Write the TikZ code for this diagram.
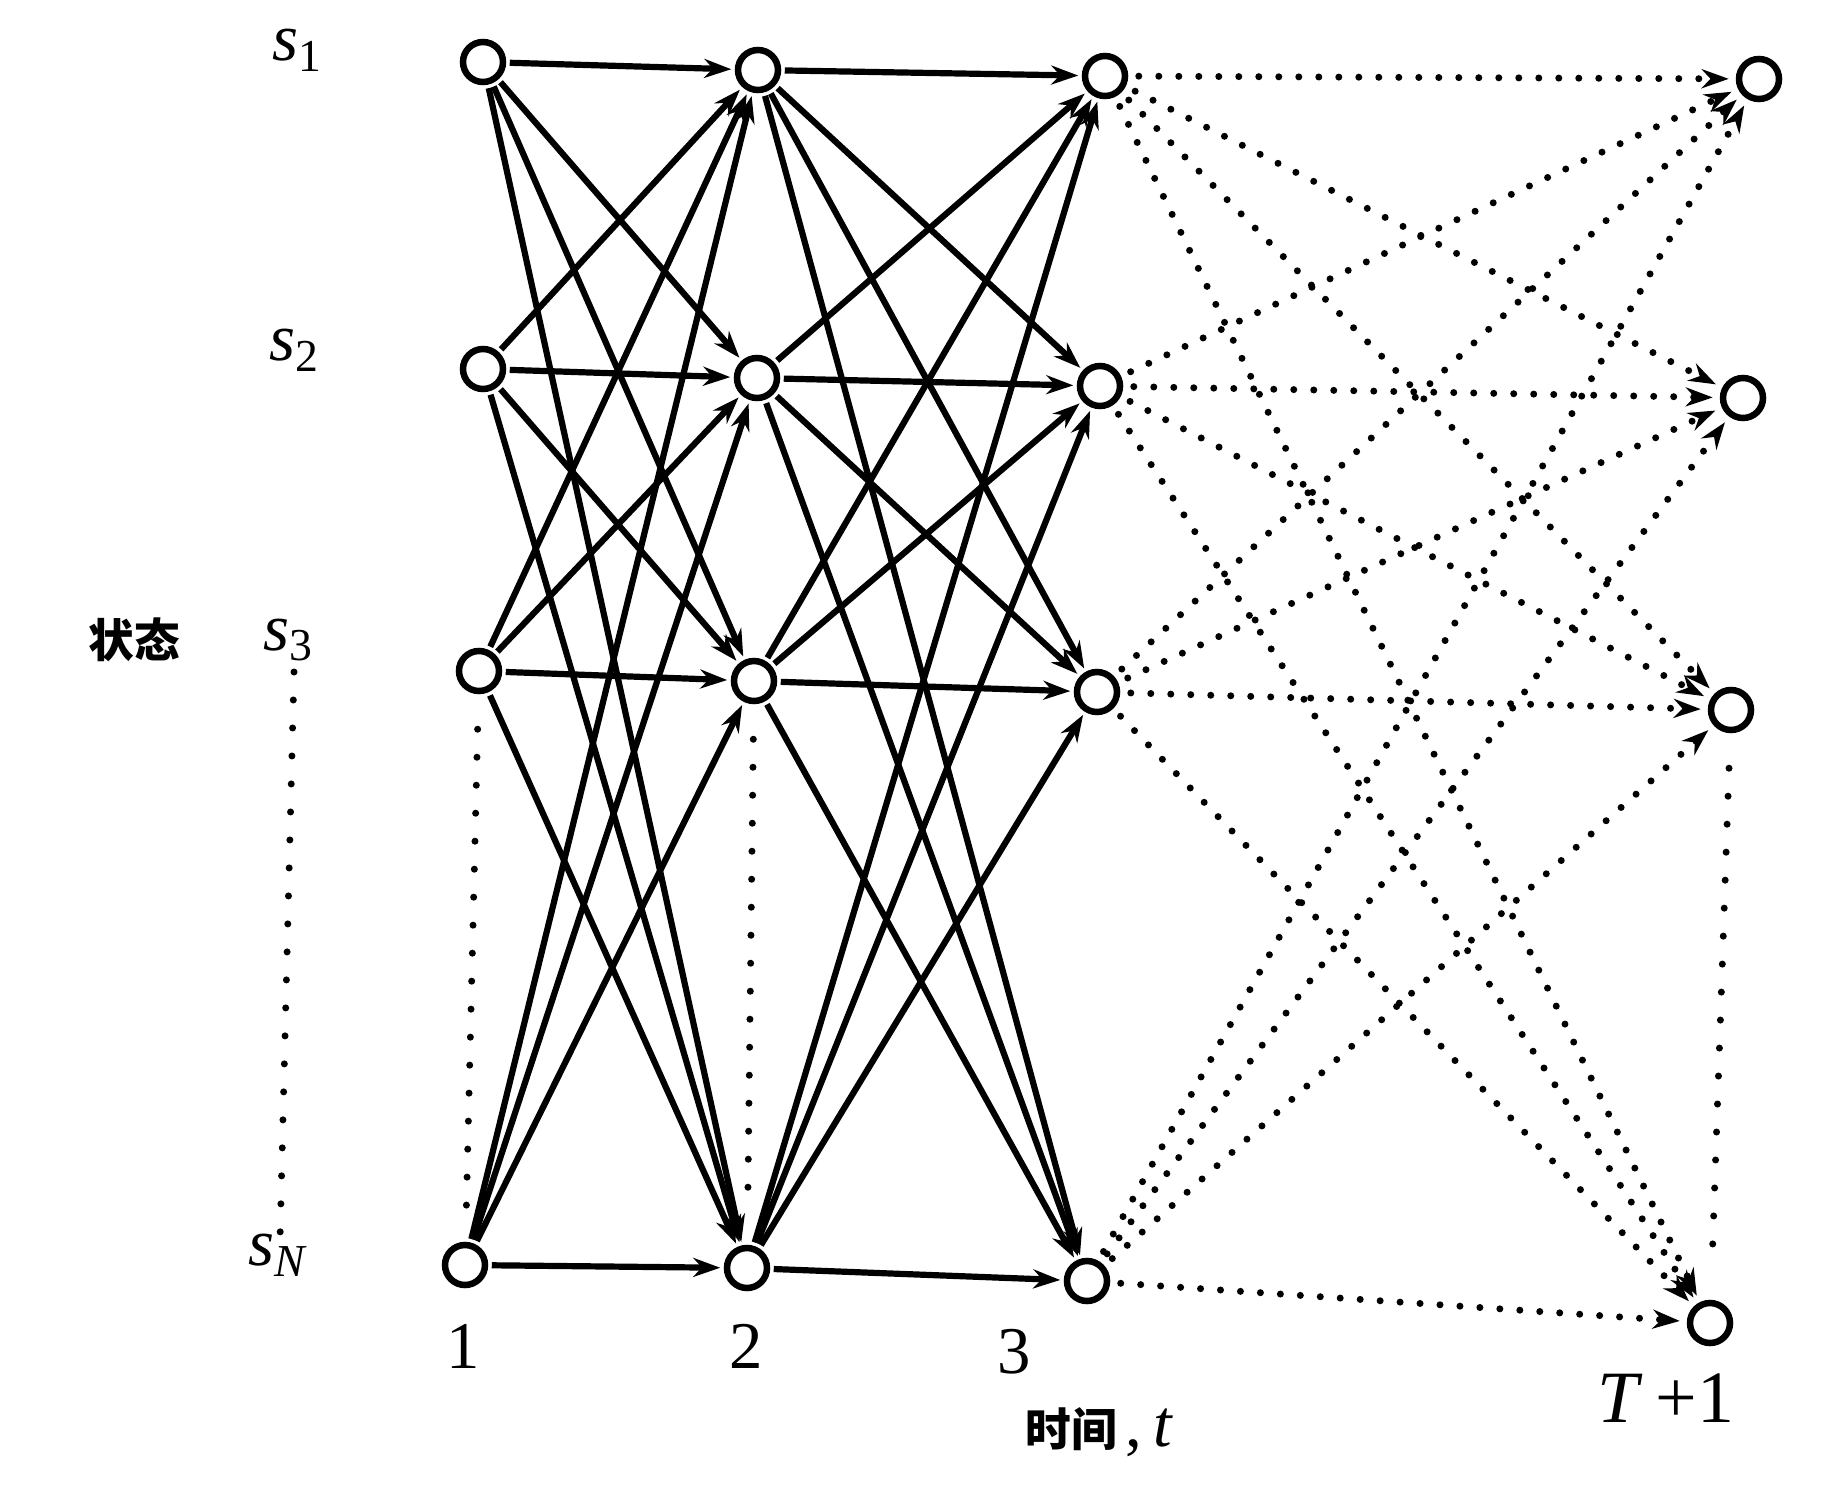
\documentclass[tikz,border=0pt]{standalone}
\usepackage{fontspec}
\setmainfont{Liberation Serif}
\newfontfamily\cjk{Noto Sans CJK SC}
\usetikzlibrary{arrows.meta}
\newcommand{\stlab}[2]{{\itshape #1}\raisebox{-0.35ex}{\fontsize{13}{13}\selectfont #2}}
\tikzset{
  st/.style={circle,draw,line width=0.065cm,minimum size=0.4cm,inner sep=0pt},
  solidarr/.style={line width=0.062cm,-{Stealth[length=0.27cm,width=0.19cm]},shorten >=1pt,shorten <=1pt},
  dotarr/.style={line width=0.07cm,line cap=round,dash pattern=on 0pt off 0.2cm,-{Stealth[length=0.27cm,width=0.19cm]},shorten >=2pt,shorten <=3pt},
  dotline/.style={line width=0.07cm,line cap=round,dash pattern=on 0pt off 0.28cm},
  lab/.style={font=\fontsize{19}{21}\selectfont},
  cjklab/.style={font=\cjk\bfseries\fontsize{13}{15}\selectfont}
}
\begin{document}
\begin{tikzpicture}
\useasboundingbox (0,0) rectangle (18.24,-15.04);
% nodes
\node[st] (a1) at (4.83,-0.62) {};
\node[st] (a2) at (4.83,-3.69) {};
\node[st] (a3) at (4.79,-6.71) {};
\node[st] (a4) at (4.65,-12.65) {};
\node[st] (b1) at (7.58,-0.70) {};
\node[st] (b2) at (7.57,-3.78) {};
\node[st] (b3) at (7.54,-6.81) {};
\node[st] (b4) at (7.47,-12.68) {};
\node[st] (c1) at (11.05,-0.76) {};
\node[st] (c2) at (11.00,-3.86) {};
\node[st] (c3) at (10.97,-6.92) {};
\node[st] (c4) at (10.87,-12.81) {};
\node[st] (d1) at (17.59,-0.79) {};
\node[st] (d2) at (17.43,-3.98) {};
\node[st] (d3) at (17.31,-7.10) {};
\node[st] (d4) at (17.10,-13.23) {};
% labels
\node[lab] (l1) at (2.97,-0.50) {\stlab{s}{1}};
\node[lab] (l2) at (2.94,-3.50) {\stlab{s}{2}};
\node[lab] (l3) at (2.88,-6.40) {\stlab{s}{3}};
\node[lab] (lN) at (2.77,-12.55) {\stlab{s}{\itshape N}};
\node[cjklab] (state) at (1.34,-6.40) {状态};
\node[lab] (t1) at (4.63,-13.46) {1};
\node[lab] (t2) at (7.46,-13.46) {2};
\node[lab] (t3) at (10.14,-13.52) {3};
\node[lab,font=\fontsize{21}{23}\selectfont] (tT) at (16.66,-13.98) {\textit{T}\,+1};
\node[cjklab,anchor=east,inner xsep=0pt] (time) at (11.18,-14.29) {时间};
\node[lab,anchor=west,inner xsep=2pt] (tt) at ([yshift=-1pt]time.east) {,\,\textit{t}};
% vertical dotted lines
\coordinate (v1) at (2.94,-6.72);
\coordinate (v2) at (2.80,-12.40);
\draw[dotline] (v1) -- (v2);
\draw[dotline,shorten <=0.35cm,shorten >=0.3cm] (a3) -- (a4);
\draw[dotline,shorten <=0.35cm,shorten >=0.3cm] (b3) -- (b4);
\draw[dotline,shorten <=0.35cm,shorten >=0.5cm] (d3) -- (d4);
% edges
\foreach \i in {1,2,3,4}{
  \foreach \j in {1,2,3,4}{
    \draw[solidarr] (a\i) -- (b\j);
    \draw[solidarr] (b\i) -- (c\j);
    \draw[dotarr] (c\i) -- (d\j);
  }
}
\end{tikzpicture}
\end{document}
